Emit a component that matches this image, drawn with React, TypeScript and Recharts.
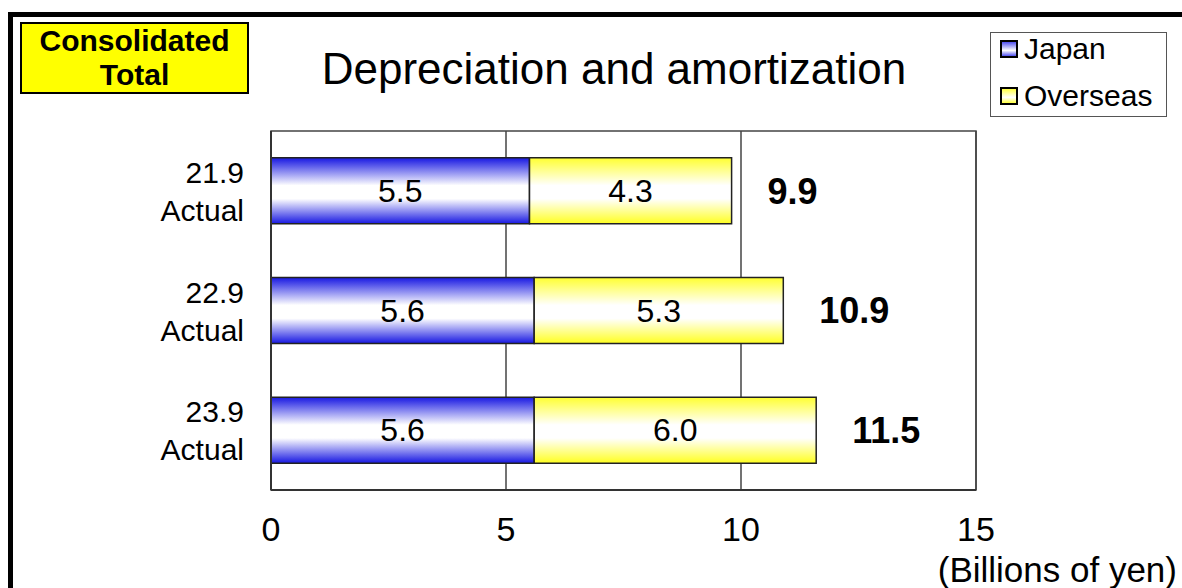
import React from 'react';
import {
  BarChart, Bar, XAxis, YAxis, CartesianGrid, LabelList, ReferenceArea
} from 'recharts';

const periods = ['21.9', '22.9', '23.9'];
const periodNotes = ['Actual', 'Actual', 'Actual'];
const japan = [5.5, 5.6, 5.6];
const overseas = [4.3, 5.3, 6.0];
const totals = ['9.9', '10.9', '11.5'];
const xTicks = [0, 5, 10, 15];

const FONT = '"Liberation Sans", Arial, sans-serif';

const data = periods.map((p, i) => ({
  period: p,
  japan: japan[i],
  overseas: overseas[i],
}));

const YTick = (props: any) => {
  const { x, y, payload, index } = props;
  return (
    <text x={x - 19} y={y} textAnchor="end" fontSize={30} fontFamily={FONT} fill="#000">
      <tspan x={x - 19} dy={-8}>{payload.value}</tspan>
      <tspan x={x - 19} dy={38}>{periodNotes[index]}</tspan>
    </text>
  );
};

const XTick = (props: any) => {
  const { x, y, payload } = props;
  return (
    <text x={x} y={y + 43} textAnchor="middle" fontSize={34} fontFamily={FONT} fill="#000">
      {payload.value}
    </text>
  );
};

const TotalLabel = (props: any) => {
  const { x, y, width, height, index } = props;
  return (
    <text
      x={x + width + 36}
      y={y + height / 2 + 13}
      textAnchor="start"
      fontSize={36}
      fontWeight="bold"
      fontFamily={FONT}
      fill="#000"
    >
      {totals[index]}
    </text>
  );
};

const Swatch = ({ color }: { color: string }) => (
  <span
    style={{
      display: 'inline-block',
      width: 14,
      height: 14,
      border: '2px solid #000',
      background: `linear-gradient(${color}, #fff 60%, ${color})`,
      marginRight: 6,
      verticalAlign: 'middle',
      position: 'relative',
      top: -2,
    }}
  />
);

export default function App() {
  return (
    <div style={{ position: 'absolute', left: 0, top: 0, width: 1182, height: 588, overflow: 'hidden', background: '#fff', fontFamily: FONT }}>
      <div style={{ position: 'absolute', left: 8, top: 12, width: 1300, height: 700, border: '5px solid #000', boxSizing: 'border-box' }} />

      <div
        style={{
          position: 'absolute', left: 20, top: 22, width: 229, height: 72, boxSizing: 'border-box',
          background: '#ffff00', border: '2px solid #000', textAlign: 'center',
          fontWeight: 'bold', fontSize: 30, lineHeight: '34px', whiteSpace: 'nowrap',
        }}
      >
        Consolidated<br />Total
      </div>

      <div style={{ position: 'absolute', left: 0, width: 1228, top: 44, textAlign: 'center', fontSize: 44, lineHeight: '50px' }}>
        Depreciation and amortization
      </div>

      <div
        style={{
          position: 'absolute', left: 990, top: 32, width: 177, height: 85, boxSizing: 'border-box',
          border: '1px solid #555', padding: '0 0 0 9px', fontSize: 30, lineHeight: '47px', whiteSpace: 'nowrap',
        }}
      >
        <div style={{ marginTop: -8 }}><Swatch color="#5050f0" />Japan</div>
        <div><Swatch color="#ffff40" />Overseas</div>
      </div>

      <div style={{ position: 'absolute', left: 0, top: 0 }}>
        <BarChart
          width={1182}
          height={588}
          data={data}
          layout="vertical"
          margin={{ top: 131, right: 206, left: 161, bottom: 38 }}
          barCategoryGap="22.4%"
        >
          <defs>
            <linearGradient id="gJapan" x1="0" y1="0" x2="0" y2="1">
              <stop offset="0" stopColor="#1717e2" />
              <stop offset="0.42" stopColor="#ffffff" />
              <stop offset="0.62" stopColor="#ffffff" />
              <stop offset="1" stopColor="#1717e2" />
            </linearGradient>
            <linearGradient id="gOverseas" x1="0" y1="0" x2="0" y2="1">
              <stop offset="0" stopColor="#ffff30" />
              <stop offset="0.42" stopColor="#ffffff" />
              <stop offset="0.62" stopColor="#ffffff" />
              <stop offset="1" stopColor="#ffff20" />
            </linearGradient>
          </defs>
          <CartesianGrid horizontal={false} stroke="#444" strokeWidth={1.5} />
          <ReferenceArea x1={0} x2={15} fill="none" stroke="#444" strokeWidth={1.5} ifOverflow="visible" />
          <XAxis
            type="number"
            domain={[0, 15]}
            ticks={xTicks}
            tick={<XTick />}
            tickLine={false}
            axisLine={{ stroke: '#333', strokeWidth: 2 }}
            height={60}
          />
          <YAxis
            type="category"
            dataKey="period"
            tick={<YTick />}
            tickLine={false}
            axisLine={{ stroke: '#333', strokeWidth: 2 }}
            width={110}
          />
          <Bar dataKey="japan" stackId="a" fill="url(#gJapan)" stroke="#222" strokeWidth={1.5} isAnimationActive={false}>
            <LabelList dataKey="japan" position="center" fontSize={32} fill="#000" fontFamily={FONT} formatter={(v: any) => Number(v).toFixed(1)} />
          </Bar>
          <Bar dataKey="overseas" stackId="a" fill="url(#gOverseas)" stroke="#222" strokeWidth={1.5} isAnimationActive={false}>
            <LabelList dataKey="overseas" position="center" fontSize={32} fill="#000" fontFamily={FONT} formatter={(v: any) => Number(v).toFixed(1)} />
            <LabelList dataKey="overseas" content={<TotalLabel />} />
          </Bar>
        </BarChart>
      </div>

      <div style={{ position: 'absolute', right: 5, top: 553, fontSize: 35, lineHeight: '34px', whiteSpace: 'nowrap' }}>
        (Billions of yen)
      </div>
    </div>
  );
}
